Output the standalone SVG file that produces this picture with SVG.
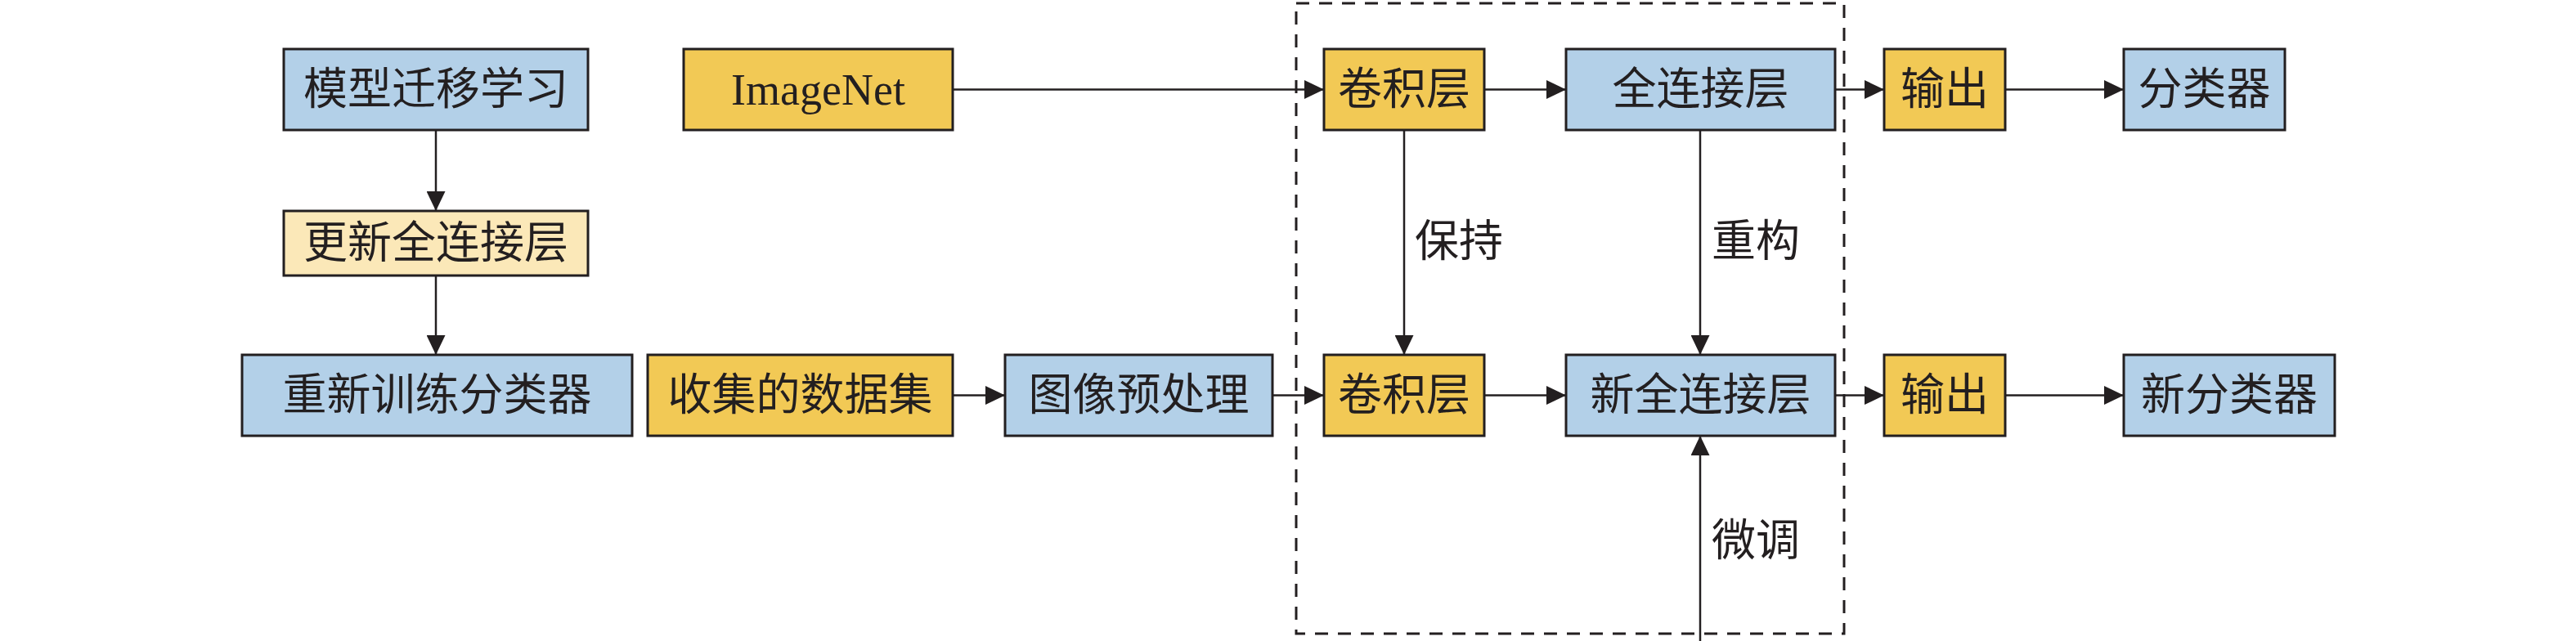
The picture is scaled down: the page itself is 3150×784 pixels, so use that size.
<svg xmlns="http://www.w3.org/2000/svg" width="3150" height="784" viewBox="0 0 3150 784">
<style>
.box{stroke:#231f20;stroke-width:3}
.blue{fill:#b3d0e8}
.yel{fill:#f2c955}
.lyel{fill:#fbe8b8}
.t{font-family:"Liberation Serif","Noto Sans CJK SC",serif;font-size:54px;fill:#231f20;text-anchor:middle;dominant-baseline:central}
.lbl{font-family:"Liberation Serif","Noto Sans CJK SC",serif;font-size:54px;fill:#231f20;dominant-baseline:central}
.c{stroke:#231f20;stroke-width:2.5;fill:none;marker-end:url(#ah)}
</style>
<defs>
<marker id="ah" markerUnits="userSpaceOnUse" viewBox="0 0 24 23" markerWidth="24" markerHeight="23" refX="24" refY="11.5" orient="auto">
<path d="M0,0 L24,11.5 L0,23 Z" fill="#231f20"/>
</marker>
</defs>
<rect x="0" y="0" width="3150" height="784" fill="#ffffff"/>
<g id="container">
<rect x="1585" y="4" width="670" height="771" fill="none" stroke="#231f20" stroke-width="3" stroke-dasharray="16 12"/>
</g>
<g id="connectors">
<line class="c" x1="533" y1="159" x2="533" y2="258"/>
<line class="c" x1="533" y1="337" x2="533" y2="434"/>
<line class="c" x1="1165" y1="109.5" x2="1619" y2="109.5"/>
<line class="c" x1="1165" y1="483.5" x2="1229" y2="483.5"/>
<line class="c" x1="1556" y1="483.5" x2="1619" y2="483.5"/>
<line class="c" x1="1815" y1="109.5" x2="1915" y2="109.5"/>
<line class="c" x1="1815" y1="483.5" x2="1915" y2="483.5"/>
<line class="c" x1="1717" y1="159" x2="1717" y2="434"/>
<line class="c" x1="2079" y1="159" x2="2079" y2="434"/>
<line class="c" x1="2079" y1="784" x2="2079" y2="533"/>
<line class="c" x1="2244" y1="109.5" x2="2304" y2="109.5"/>
<line class="c" x1="2244" y1="483.5" x2="2304" y2="483.5"/>
<line class="c" x1="2452" y1="109.5" x2="2597" y2="109.5"/>
<line class="c" x1="2452" y1="483.5" x2="2597" y2="483.5"/>
<text class="lbl" x="1730" y="296">保持</text>
<text class="lbl" x="2093" y="296">重构</text>
<text class="lbl" x="2093" y="662">微调</text>
</g>
<g id="n1"><rect class="box blue" x="347" y="60" width="372" height="99"/><text class="t" x="533" y="109.5">模型迁移学习</text></g>
<g id="n2"><rect class="box lyel" x="347" y="258" width="372" height="79"/><text class="t" x="533" y="297.5">更新全连接层</text></g>
<g id="n3"><rect class="box blue" x="296" y="434" width="477" height="99"/><text class="t" x="534.5" y="483.5">重新训练分类器</text></g>
<g id="n4"><rect class="box yel" x="836" y="60" width="329" height="99"/><text class="t" x="1000.5" y="109.5">ImageNet</text></g>
<g id="n5"><rect class="box yel" x="792" y="434" width="373" height="99"/><text class="t" x="978.5" y="483.5">收集的数据集</text></g>
<g id="n6"><rect class="box blue" x="1229" y="434" width="327" height="99"/><text class="t" x="1392.5" y="483.5">图像预处理</text></g>
<g id="n7"><rect class="box yel" x="1619" y="60" width="196" height="99"/><text class="t" x="1717" y="109.5">卷积层</text></g>
<g id="n8"><rect class="box blue" x="1915" y="60" width="329" height="99"/><text class="t" x="2079.5" y="109.5">全连接层</text></g>
<g id="n9"><rect class="box yel" x="1619" y="434" width="196" height="99"/><text class="t" x="1717" y="483.5">卷积层</text></g>
<g id="n10"><rect class="box blue" x="1915" y="434" width="329" height="99"/><text class="t" x="2079.5" y="483.5">新全连接层</text></g>
<g id="n11"><rect class="box yel" x="2304" y="60" width="148" height="99"/><text class="t" x="2378" y="109.5">输出</text></g>
<g id="n12"><rect class="box blue" x="2597" y="60" width="197" height="99"/><text class="t" x="2695.5" y="109.5">分类器</text></g>
<g id="n13"><rect class="box yel" x="2304" y="434" width="148" height="99"/><text class="t" x="2378" y="483.5">输出</text></g>
<g id="n14"><rect class="box blue" x="2597" y="434" width="258" height="99"/><text class="t" x="2726" y="483.5">新分类器</text></g>
</svg>
